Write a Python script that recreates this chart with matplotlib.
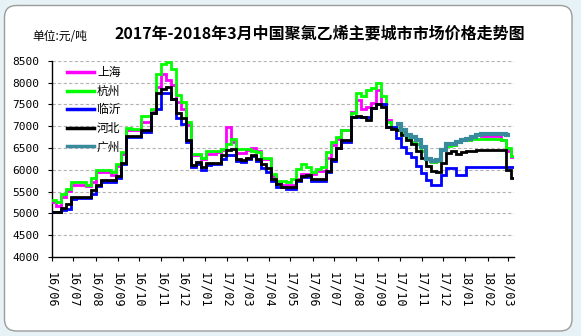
import matplotlib
matplotlib.use("Agg")
import matplotlib.pyplot as plt
import matplotlib.dates as mdates
from matplotlib.patches import FancyBboxPatch
from matplotlib.transforms import IdentityTransform
import pandas as pd
import numpy as np

CJK = ['Noto Sans CJK SC', 'DejaVu Sans']

# weekly observations (Fridays) from 2016-06-03 to 2018-03-09
dates = pd.date_range('2016-06-03', periods=93, freq='7D')

shanghai = [5250, 5180, 5380, 5520, 5660, 5660, 5660, 5620, 5720, 5940,
            5940, 5940, 5880, 6090, 6350, 6900, 6910, 6910, 7100, 7100,
            7370, 7900, 8200, 8050, 7940, 7550, 7400, 7020, 6330, 6330,
            6240, 6370, 6370, 6400, 6450, 6980, 6640, 6380, 6380, 6450,
            6500, 6420, 6250, 6250, 5860, 5710, 5660, 5660, 5660, 5790,
            5900, 5900, 5900, 5980, 5980, 6280, 6560, 6700, 6910, 6910,
            7330, 7600, 7400, 7440, 7520, 7830, 7500, 7140, 6990, 6950,
            6850, 6720, 6640, 6580, 6420, 6250, 6180, 6200, 6450, 6580,
            6560, 6630, 6680, 6690, 6750, 6820, 6780, 6780, 6780, 6780,
            6680, 6440, 6300]

hangzhou = [5300, 5250, 5450, 5560, 5710, 5710, 5710, 5660, 5800, 5990,
            5990, 5990, 5950, 6130, 6400, 6950, 6930, 6930, 7240, 7240,
            7400, 8200, 8420, 8460, 8320, 7710, 7560, 7100, 6350, 6350,
            6260, 6430, 6430, 6440, 6470, 6600, 6700, 6470, 6470, 6470,
            6440, 6400, 6280, 6280, 5900, 5750, 5750, 5710, 5790, 6020,
            6130, 6060, 5960, 6020, 6060, 6400, 6640, 6750, 6910, 6910,
            7290, 7750, 7680, 7830, 7870, 7980, 7700, 7100, 6990, 6950,
            6850, 6720, 6640, 6580, 6420, 6250, 6180, 6200, 6450, 6550,
            6560, 6630, 6680, 6690, 6710, 6710, 6710, 6710, 6710, 6710,
            6690, 6500, 6320]

linyi = [5030, 5030, 5080, 5100, 5330, 5360, 5360, 5360, 5450, 5630,
         5710, 5710, 5710, 5800, 6140, 6740, 6740, 6740, 6870, 6870,
         7290, 7400, 7750, 7750, 7630, 7180, 7060, 6640, 6060, 6140,
         5990, 6100, 6140, 6140, 6250, 6330, 6330, 6210, 6170, 6250,
         6320, 6210, 6050, 5940, 5750, 5610, 5610, 5560, 5560, 5750,
         5830, 5830, 5750, 5750, 5750, 5940, 6210, 6510, 6640, 6640,
         7210, 7210, 7210, 7210, 7410, 7510, 7510, 6980, 6980, 6720,
         6520, 6380, 6290, 6080, 5920, 5770, 5640, 5650, 5880, 6050,
         6050, 5890, 5890, 6060, 6060, 6060, 6060, 6060, 6060, 6060,
         6060, 6060, 6060]

hebei = [5030, 5030, 5130, 5220, 5370, 5370, 5370, 5370, 5530, 5640,
         5760, 5760, 5760, 5850, 6160, 6770, 6770, 6770, 6900, 6900,
         7300, 7750, 7860, 7900, 7630, 7290, 7180, 6680, 6100, 6180,
         6060, 6160, 6160, 6160, 6330, 6450, 6470, 6250, 6220, 6280,
         6340, 6250, 6130, 6050, 5790, 5670, 5610, 5610, 5610, 5770,
         5860, 5880, 5790, 5790, 5790, 5980, 6250, 6510, 6680, 6680,
         7210, 7230, 7200, 7150, 7410, 7510, 7440, 6980, 6940, 6910,
         6800, 6680, 6600, 6420, 6260, 6090, 5980, 5960, 6150, 6380,
         6420, 6350, 6400, 6420, 6420, 6450, 6450, 6450, 6450, 6450,
         6450, 5990, 5820]

# Guangzhou quotes begin 2017-09-29
gz_start = '2017-09-29'
guangzhou = [7060, 6900, 6800, 6740, 6680, 6530, 6250, 6200, 6220, 6450,
             6580, 6580, 6640, 6690, 6710, 6760, 6790, 6820, 6820, 6820,
             6820, 6820, 6790]

series_names = ['上海', '杭州', '临沂', '河北', '广州']
colors = ['#FF00FF', '#00FF00', '#0000FF', '#000000', '#3A8A9E']

month_ticks = pd.date_range('2016-06-01', '2018-03-01', freq='MS')
y_ticks = list(range(4000, 8501, 500))

title = '2017年-2018年3月中国聚氯乙烯主要城市市场价格走势图'
unit = '单位:元/吨'

W, H = 581, 336
fig = plt.figure(figsize=(W / 100, H / 100), dpi=100)
fig.patch.set_facecolor('#E6F2F5')

frame = FancyBboxPatch((4.5, H - 331), 567.5, 325.5,
                       boxstyle='round,pad=0,rounding_size=12',
                       transform=IdentityTransform(), fc='white',
                       ec='#9C9C9C', lw=1.0, zorder=0)
fig.add_artist(frame)

ax = fig.add_axes([52 / W, 79 / H, 462 / W, 196.3 / H])
ax.set_facecolor('white')

gz_dates = dates[dates >= pd.Timestamp(gz_start)][:len(guangzhou)]
data = [(dates, shanghai), (dates, hangzhou), (dates, linyi), (dates, hebei),
        (gz_dates, guangzhou)]
widths = [2.0, 2.0, 2.0, 2.0, 3.0]
handles = []
for (d, v), name, c, lw in zip(data, series_names, colors, widths):
    ln, = ax.plot(d, v, color=c, lw=lw, drawstyle='steps-mid', label=name,
                  solid_joinstyle='miter', zorder=3)
    handles.append(ln)

ax.set_ylim(4000, 8500)
ax.set_xlim(pd.Timestamp('2016-06-01'), pd.Timestamp('2018-03-10'))
ax.set_yticks(y_ticks)
ax.set_yticklabels([str(t) for t in y_ticks], fontsize=8,
                   family='DejaVu Sans Mono')
ax.set_xticks(month_ticks)
ax.set_xticklabels([d.strftime('%y/%m') for d in month_ticks], rotation=-90,
                   fontsize=8.5, family='DejaVu Sans Mono', va='top',
                   ha='center')
ax.tick_params(axis='both', direction='out', length=3, width=0.8,
               color='black')
ax.tick_params(axis='y', pad=6)
ax.tick_params(axis='x', pad=8)
ax.yaxis.grid(True, ls=(0, (3, 2)), color='#B4B4B4', lw=0.8)
ax.set_axisbelow(True)
for s in ['top', 'right']:
    ax.spines[s].set_visible(False)
for s in ['left', 'bottom']:
    ax.spines[s].set_linewidth(1.0)

leg = ax.legend(handles=handles, loc='upper left',
                bbox_to_anchor=(0.032, 0.972), frameon=False,
                prop={'family': CJK, 'size': 8.5}, handlelength=2.3,
                handletextpad=0.25, labelspacing=0.47, borderpad=0,
                borderaxespad=0)
for h in leg.legend_handles:
    h.set_linewidth(2.5)

fig.text(320 / W, 1 - 33.5 / H, title, family=CJK, fontsize=11.5,
         fontweight='bold', ha='center', va='center')
fig.text(32.5 / W, 1 - 36 / H, unit, family=CJK, fontsize=8.5,
         ha='left', va='center')

fig.savefig('out.png', dpi=100, facecolor=fig.get_facecolor())
